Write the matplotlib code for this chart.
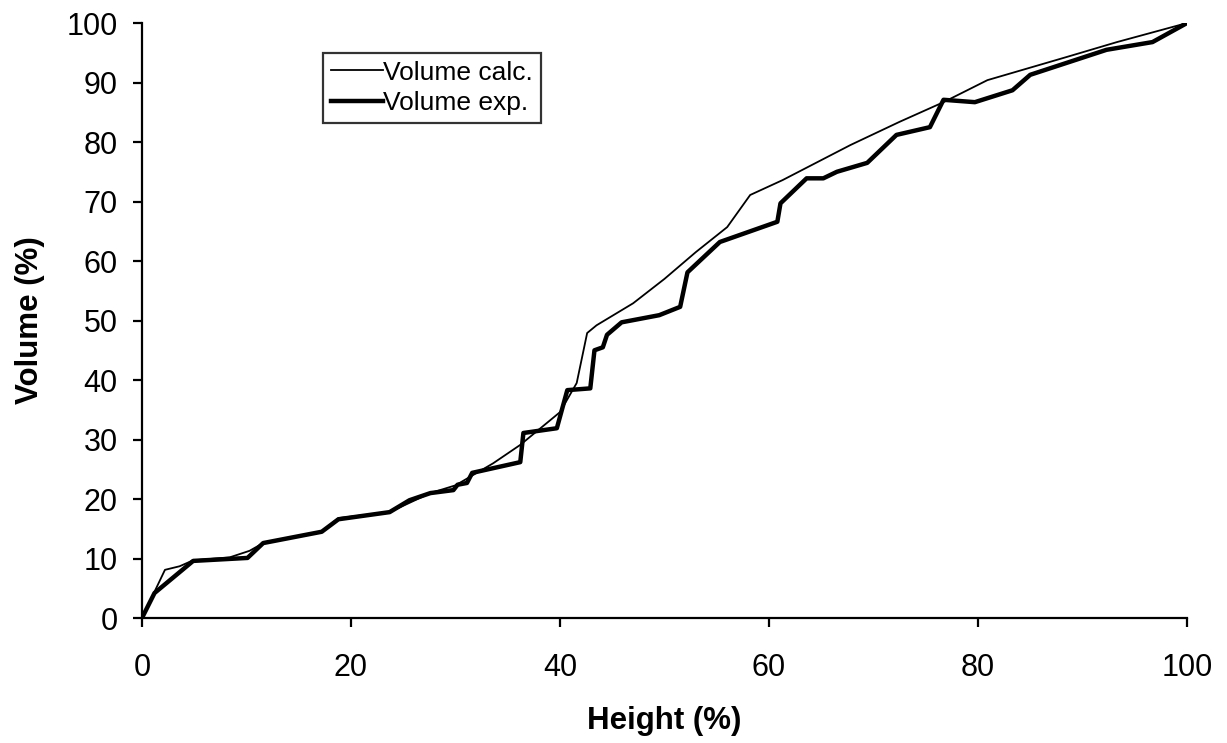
import matplotlib
matplotlib.use("Agg")
import matplotlib.pyplot as plt

# Volume calc. (thin line)
h_calc = [0, 2.2, 3.6, 4.9, 8.4, 10.3, 11.6, 17.2, 18.8, 23.7, 27.6, 30.0, 33.6,
          36.2, 40.0, 41.6, 42.6, 43.5, 47.0, 50.0, 53.0, 56.0, 58.2, 61.3,
          67.8, 72.5, 76.7, 80.9, 88.5, 93.3, 100]
v_calc = [0, 8.1, 8.7, 9.7, 10.2, 11.3, 12.6, 14.5, 16.8, 17.8, 21.0, 22.3, 26.0,
          29.1, 34.6, 39.5, 47.9, 49.2, 52.9, 57.0, 61.5, 65.7, 71.1, 73.6,
          79.5, 83.4, 86.7, 90.4, 94.3, 96.8, 100]

# Volume exp. (thick line)
h_exp = [0, 1.2, 4.9, 10.1, 11.6, 17.2, 18.8, 23.7, 25.6, 27.6, 29.8, 30.2, 31.1,
         31.6, 36.2, 36.5, 39.7, 40.7, 42.9, 43.3, 44.1, 44.5, 45.9, 49.5, 51.5,
         52.2, 55.3, 60.8, 61.1, 63.6, 65.2, 66.5, 69.4, 72.2, 75.4, 76.7,
         79.7, 83.3, 85.0, 92.3, 96.7, 100]
v_exp = [0, 4.2, 9.6, 10.1, 12.6, 14.5, 16.6, 17.8, 19.8, 21.0, 21.5, 22.4, 22.7,
         24.4, 26.2, 31.1, 31.9, 38.3, 38.6, 45.0, 45.5, 47.6, 49.7, 50.9, 52.3,
         58.1, 63.2, 66.6, 69.7, 73.9, 73.9, 75.0, 76.5, 81.2, 82.5, 87.1,
         86.7, 88.7, 91.3, 95.5, 96.8, 100]

plt.rcParams['font.family'] = ['Liberation Sans', 'DejaVu Sans']

fig = plt.figure(figsize=(12.27, 7.43), dpi=100)
ax = fig.add_axes([0.1157, 0.1682, 0.8517, 0.8008])

ax.plot(h_calc, v_calc, color='black', linewidth=1.3, solid_joinstyle='round',
        label='Volume calc.')
ax.plot(h_exp, v_exp, color='black', linewidth=3.2, solid_joinstyle='round',
        label='Volume exp.')

ax.set_xlim(0, 100)
ax.set_ylim(0, 100)
ax.set_xticks(range(0, 101, 20))
ax.set_yticks(range(0, 101, 10))
ax.spines['top'].set_visible(False)
ax.spines['right'].set_visible(False)
ax.spines['left'].set_linewidth(1.6)
ax.spines['bottom'].set_linewidth(1.6)
ax.tick_params(direction='out', length=6.5, width=1.6, labelsize=22)
ax.tick_params(axis='x', pad=19)
ax.tick_params(axis='y', pad=11)

ax.set_xlabel('Height (%)', fontsize=22.5, fontweight='bold')
ax.set_ylabel('Volume (%)', fontsize=22.5, fontweight='bold')
ax.xaxis.set_label_coords(0.5, -0.148)
ax.yaxis.set_label_coords(-0.093, 0.5)

leg = ax.legend(loc='upper left', bbox_to_anchor=(0.173, 0.95), borderaxespad=0,
                fontsize=19, frameon=True, fancybox=False, handlelength=2.0,
                handletextpad=0.0, borderpad=0.3, labelspacing=0.25)
leg.get_frame().set_edgecolor('black')
leg.get_frame().set_linewidth(1.6)

fig.savefig('out.png', dpi=100)
